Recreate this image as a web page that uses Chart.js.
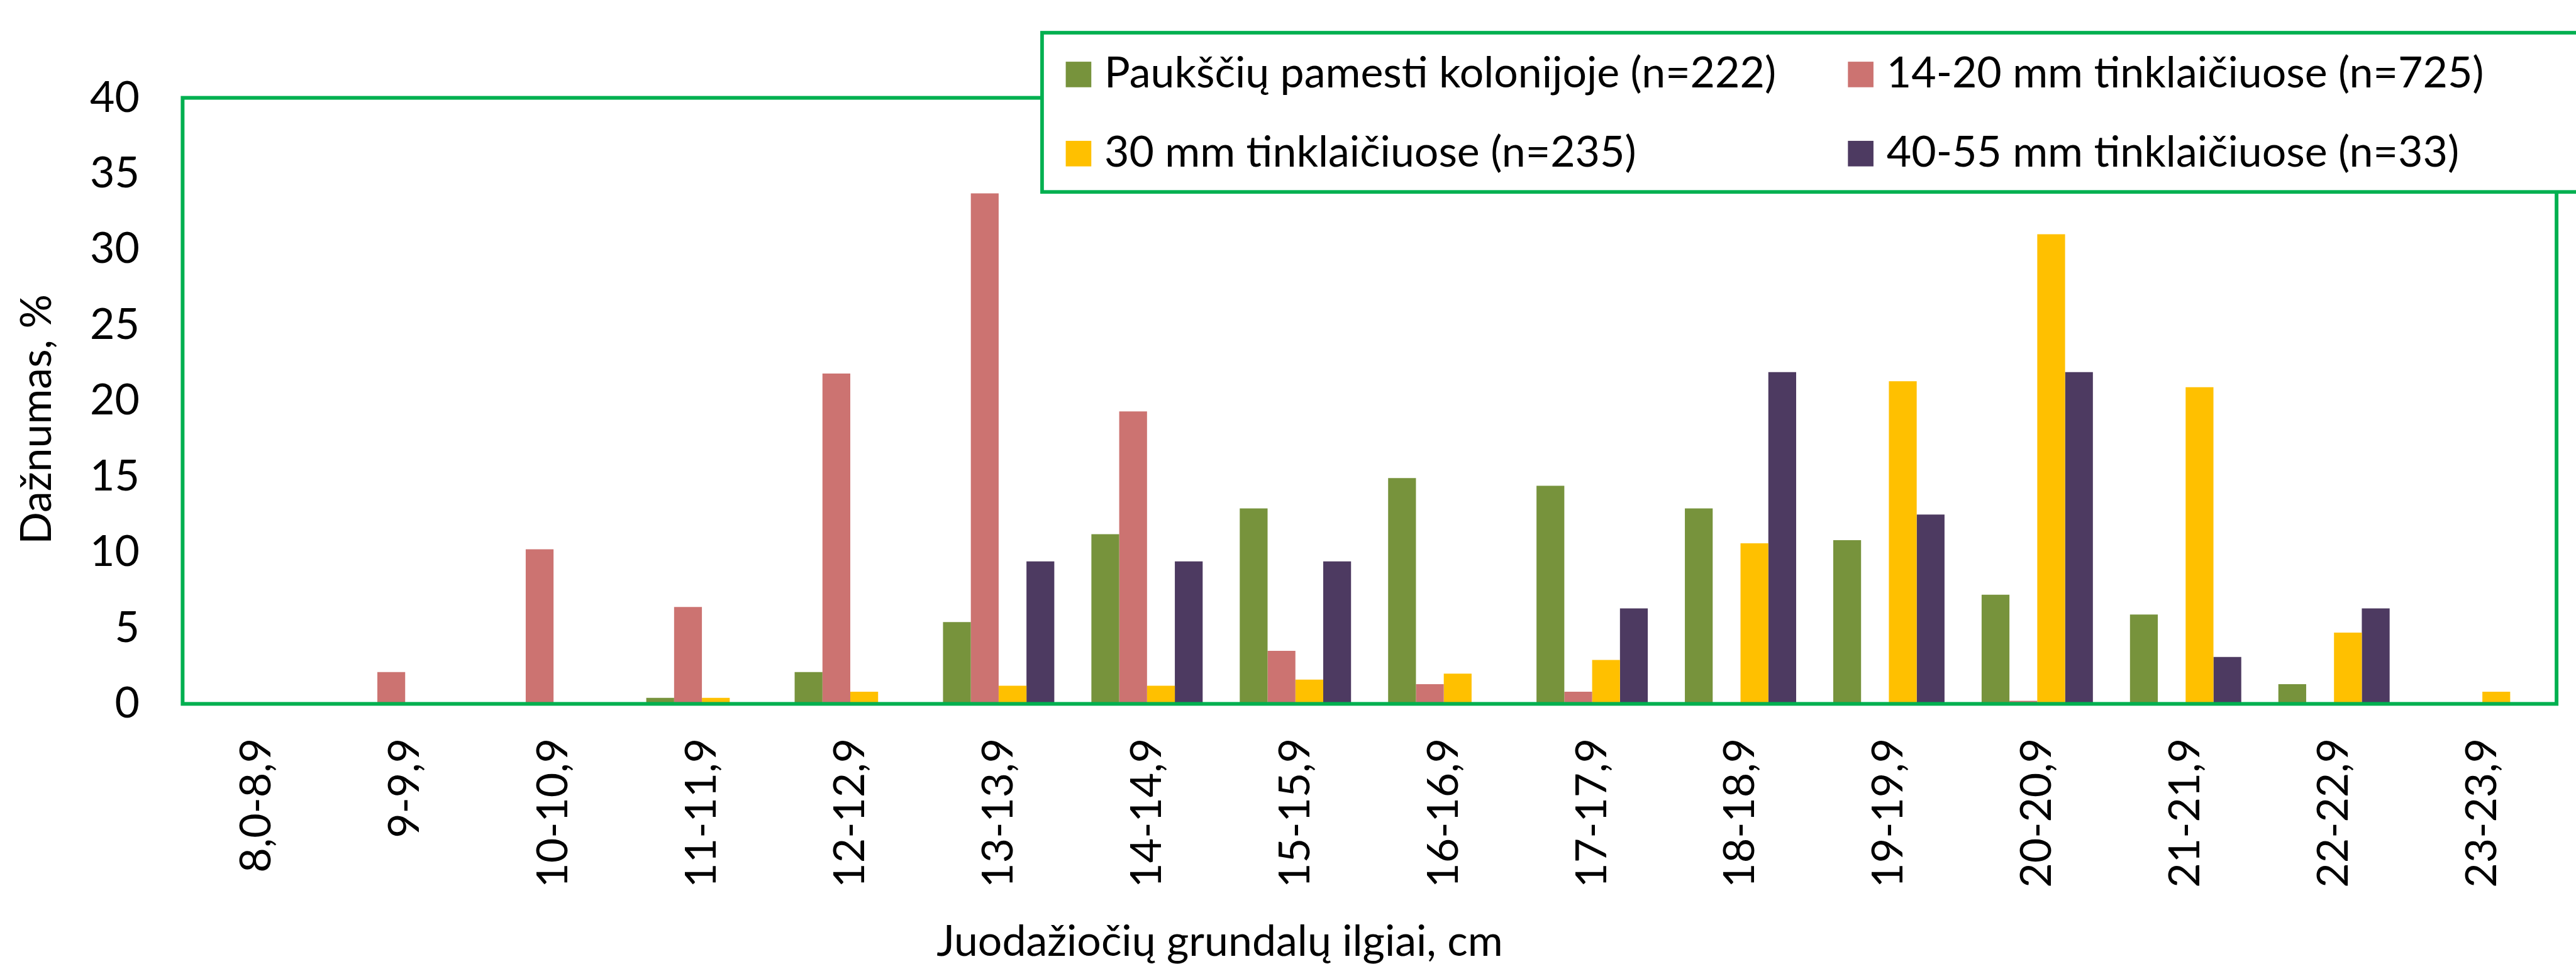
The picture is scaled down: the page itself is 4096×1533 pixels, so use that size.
<!DOCTYPE html>
<html>
<head>
<meta charset="utf-8">
<title>Juodažiočių grundalų ilgiai</title>
<script src="https://cdn.jsdelivr.net/npm/chart.js@4.4.1/dist/chart.umd.min.js"></script>
<style>
  html, body { margin: 0; padding: 0; background: #fff; }
  #wrap { width: 4096px; height: 1533px; }
</style>
</head>
<body>
<div id="wrap"><canvas id="myChart" width="4096" height="1533"></canvas></div>
<script>
// ....................................   DATA   ....................................

const lengthClasses = ['8,0-8,9', '9-9,9', '10-10,9', '11-11,9', '12-12,9', '13-13,9', '14-14,9', '15-15,9',
    '16-16,9', '17-17,9', '18-18,9', '19-19,9', '20-20,9', '21-21,9', '22-22,9', '23-23,9'];

const seriesNames = ['Paukščių pamesti kolonijoje (n=222)', '14-20 mm tinklaičiuose (n=725)',
    '30 mm tinklaičiuose (n=235)', '40-55 mm tinklaičiuose (n=33)'];

const droppedInColony = [0, 0, 0, 0.4, 2.1, 5.4, 11.2, 12.9, 14.9, 14.4, 12.9, 10.8, 7.2, 5.9, 1.3, 0];
const mesh14to20 = [0, 2.1, 10.2, 6.4, 21.8, 33.7, 19.3, 3.5, 1.3, 0.8, 0, 0, 0.2, 0, 0, 0];
const mesh30 = [0, 0, 0, 0.4, 0.8, 1.2, 1.2, 1.6, 2.0, 2.9, 10.6, 21.3, 31.0, 20.9, 4.7, 0.8];
const mesh40to55 = [0, 0, 0, 0, 0, 9.4, 9.4, 9.4, 0, 6.3, 21.9, 12.5, 21.9, 3.1, 6.3, 0];

const yTickMax = 40;
const yTickStep = 5;

const yTitle = 'Dažnumas, %';
const xTitle = 'Juodažiočių grundalų ilgiai, cm';

// ..................................   STYLE   .....................................

const S = 0.991;                 // reference -> window scale
const FS = 68;                   // font size
const frameGreen = '#00B050';
const barColors = ['#77933C', '#CC7371', '#FFC000', '#4D3A61'];

Chart.defaults.font.family = 'Lato, "Liberation Sans", sans-serif';
Chart.defaults.font.size = FS;
Chart.defaults.color = '#000';

// green frame round the plot area
const plotFrame = {
    id: 'plotFrame',
    afterDatasetsDraw(chart) {
        const { ctx, chartArea: a } = chart;
        ctx.save();
        ctx.strokeStyle = frameGreen;
        ctx.lineWidth = 6 * S;
        ctx.strokeRect(a.left, a.top, a.right - a.left, a.bottom - a.top);
        ctx.restore();
    }
};

// axis titles, placed where the original has them (x title is not centred)
const axisTitles = {
    id: 'axisTitles',
    afterDraw(chart) {
        const ctx = chart.ctx;
        ctx.save();
        ctx.fillStyle = '#000';
        ctx.font = FS + 'px ' + Chart.defaults.font.family;
        ctx.textAlign = 'center';

        ctx.save();
        ctx.translate(60 * S, 673 * S);
        ctx.rotate(-Math.PI / 2);
        ctx.textBaseline = 'middle';
        ctx.fillText(yTitle, 0, 0);
        ctx.restore();

        ctx.textBaseline = 'alphabetic';
        ctx.fillText(xTitle, 1957 * S, 1534 * S);
        ctx.restore();
    }
};

// boxed legend sitting over the top right of the plot, 2 x 2 items
const boxLegend = {
    id: 'boxLegend',
    afterDraw(chart) {
        const ctx = chart.ctx;
        const left = 1672 * S, top = 52.5 * S, bottom = 308 * S;
        ctx.save();
        ctx.fillStyle = '#fff';
        ctx.fillRect(left, top, chart.width + 50 - left, bottom - top);
        ctx.strokeStyle = frameGreen;
        ctx.lineWidth = 5.8 * S;
        ctx.strokeRect(left, top, chart.width + 50 - left, bottom - top);

        const colX = [1710 * S, 2965 * S];
        const rowBase = [140 * S, 267 * S];
        const box = 41 * S;
        ctx.font = FS + 'px ' + Chart.defaults.font.family;
        ctx.textBaseline = 'alphabetic';
        ctx.textAlign = 'left';
        chart.data.datasets.forEach((ds, i) => {
            const x = colX[i % 2];
            const y = rowBase[Math.floor(i / 2)];
            ctx.fillStyle = ds.backgroundColor;
            ctx.fillRect(x, y - box, box, box);
            ctx.fillStyle = '#000';
            ctx.fillText(ds.label, x + 62 * S, y);
        });
        ctx.restore();
    }
};

// ..................................   CHART   .....................................

const plotTop = 157 * S;
const plotBottom = 1129.5 * S;
const plotLeft = 293 * S;
const plotRight = 4102 * S;

const myChart = new Chart(document.getElementById('myChart'), {
    type: 'bar',
    data: {
        labels: lengthClasses,
        datasets: [droppedInColony, mesh14to20, mesh30, mesh40to55].map((values, i) => ({
            label: seriesNames[i],
            data: values,
            backgroundColor: barColors[i],
            borderWidth: 0,
            categoryPercentage: 0.75,
            barPercentage: 1.0
        }))
    },
    options: {
        responsive: false,
        animation: false,
        layout: {
            padding: { top: plotTop, right: 4096 - plotRight, left: 0, bottom: 0 }
        },
        plugins: {
            legend: { display: false },
            tooltip: { enabled: false }
        },
        scales: {
            x: {
                grid: { display: false, drawTicks: false },
                border: { display: false },
                ticks: {
                    autoSkip: false,
                    minRotation: 90,
                    maxRotation: 90,
                    padding: 55 * S,
                    color: '#000',
                    font: { size: FS }
                },
                afterFit(scale) { scale.height = 1533 - plotBottom; }
            },
            y: {
                min: 0,
                max: yTickMax,
                grid: { display: false, drawTicks: false },
                border: { display: false },
                ticks: {
                    stepSize: yTickStep,
                    padding: 69 * S,
                    color: '#000',
                    font: { size: FS }
                },
                afterFit(scale) { scale.width = plotLeft; }
            }
        }
    },
    plugins: [plotFrame, boxLegend, axisTitles]
});
</script>
</body>
</html>
